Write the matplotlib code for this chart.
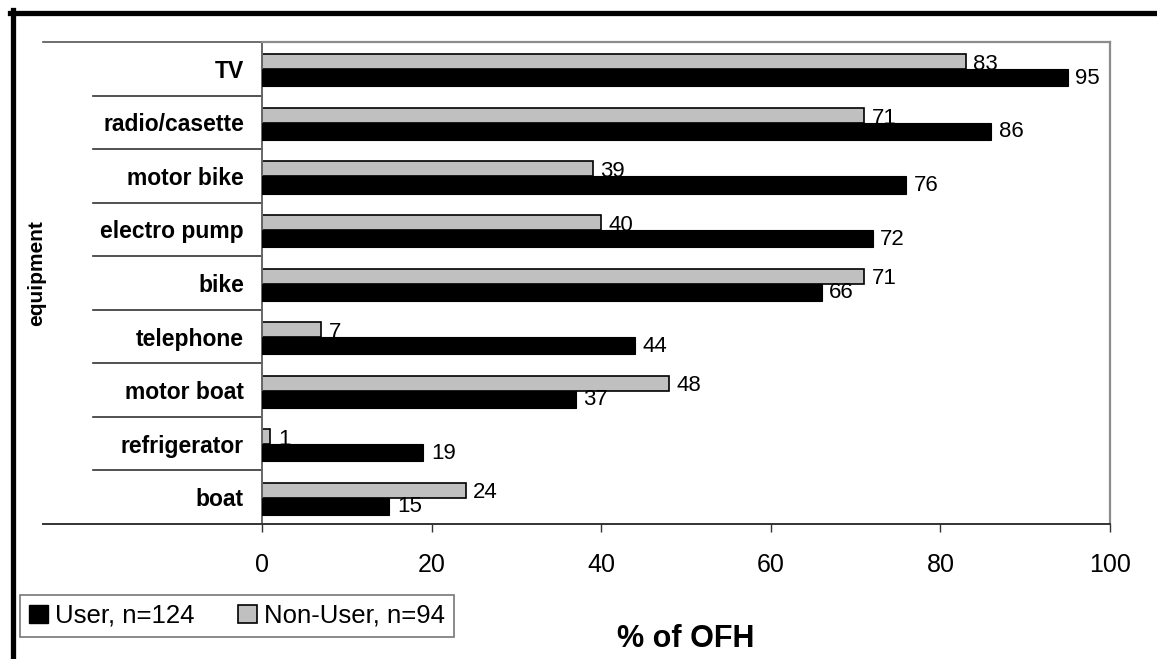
import matplotlib.pyplot as plt
import numpy as np
from matplotlib.lines import Line2D
from matplotlib.patches import Patch

plt.rcParams['font.family'] = ['Liberation Sans', 'DejaVu Sans']

# categories from bottom to top
equipment = ['boat', 'refrigerator', 'motor boat', 'telephone', 'bike',
             'electro pump', 'motor bike', 'radio/casette', 'TV']
user = [15, 19, 37, 44, 66, 72, 76, 86, 95]
non_user = [24, 1, 48, 7, 71, 40, 39, 71, 83]
x_ticks = [0, 20, 40, 60, 80, 100]

W, H = 1157, 659
fig = plt.figure(figsize=(W / 100, H / 100), dpi=100)
fig.patch.set_facecolor('white')

# plot area in pixels: x 262..1110, y 42..524
ax = fig.add_axes([262 / W, 1 - 524 / H, (1110 - 262) / W, (524 - 42) / H])

y = np.arange(len(equipment))
split = -0.01
ax.barh(y + split, non_user, height=0.28, align='edge', color='#c0c0c0',
        edgecolor='black', linewidth=1.2, zorder=2)
ax.barh(y + split, user, height=-0.32, align='edge', color='black',
        edgecolor='black', linewidth=0.8, zorder=3)

for yi, v in zip(y, non_user):
    ax.text(v + 0.9, yi + split + 0.09, str(v), fontsize=16, va='center',
            ha='left', zorder=2.5)
for yi, v in zip(y, user):
    ax.text(v + 0.9, yi + split - 0.17, str(v), fontsize=16, va='center',
            ha='left', zorder=4)

ax.set_xlim(0, 100)
ax.set_ylim(-0.5, len(equipment) - 0.5)
ax.set_xticks(x_ticks)
ax.set_xticklabels([str(t) for t in x_ticks], fontsize=18)
ax.tick_params(axis='x', direction='out', length=6, width=1, color='#333333', pad=15)
ax.set_yticks(y)
ax.set_yticklabels(equipment, fontsize=16.5, fontweight='bold')
ax.tick_params(axis='y', length=0, pad=13)

ax.spines['top'].set_color('#8c8c8c')
ax.spines['right'].set_color('#8c8c8c')
ax.spines['top'].set_linewidth(1.6)
ax.spines['right'].set_linewidth(1.6)
ax.spines['left'].set_color('#666666')
ax.spines['left'].set_linewidth(1.4)
ax.spines['bottom'].set_color('#333333')
ax.spines['bottom'].set_linewidth(1.4)

# category separators (long tick lines to the left of the axis)
tr = ax.get_yaxis_transform()
x_outer = (43 - 262) / (1110 - 262)
x_inner = (93 - 262) / (1110 - 262)
for b in np.arange(0.5, len(equipment) - 0.5, 1.0):
    ax.plot([x_inner, 0], [b, b], color='#333333', lw=1.2, transform=tr,
            clip_on=False)
ax.plot([x_outer, 0], [len(equipment) - 0.5] * 2, color='#555555', lw=1.2,
        transform=tr, clip_on=False)
ax.plot([x_outer, 0], [-0.5, -0.5], color='#333333', lw=1.4,
        transform=tr, clip_on=False)

fig.text(37 / W, 1 - 273 / H, 'equipment', rotation=90, fontsize=15,
         fontweight='bold', ha='center', va='center')
fig.text(686 / W, 1 - 639 / H, '% of OFH', fontsize=22, fontweight='bold',
         ha='center', va='center')

handles = [Patch(facecolor='black', edgecolor='black', label='User, n=124'),
           Patch(facecolor='#c0c0c0', edgecolor='black', linewidth=1.2,
                 label='Non-User, n=94')]
leg = fig.legend(handles=handles, loc='upper left',
                 bbox_to_anchor=(20 / W, 1 - 595 / H), ncol=2, fontsize=18.5,
                 frameon=True, fancybox=False, edgecolor='#555555',
                 handlelength=0.75, handleheight=0.75, handletextpad=0.25,
                 columnspacing=1.7, borderpad=0.35, borderaxespad=0)
leg.get_frame().set_linewidth(1.2)

# outer frame (left and top only visible)
fig.add_artist(Line2D([12.5 / W, 12.5 / W], [0, 1 - 10 / H], color='black',
                      lw=3.8, transform=fig.transFigure))
fig.add_artist(Line2D([10 / W, 1], [1 - 12.5 / H, 1 - 12.5 / H], color='black',
                      lw=3.8, transform=fig.transFigure))

fig.savefig('out.png', dpi=100)
